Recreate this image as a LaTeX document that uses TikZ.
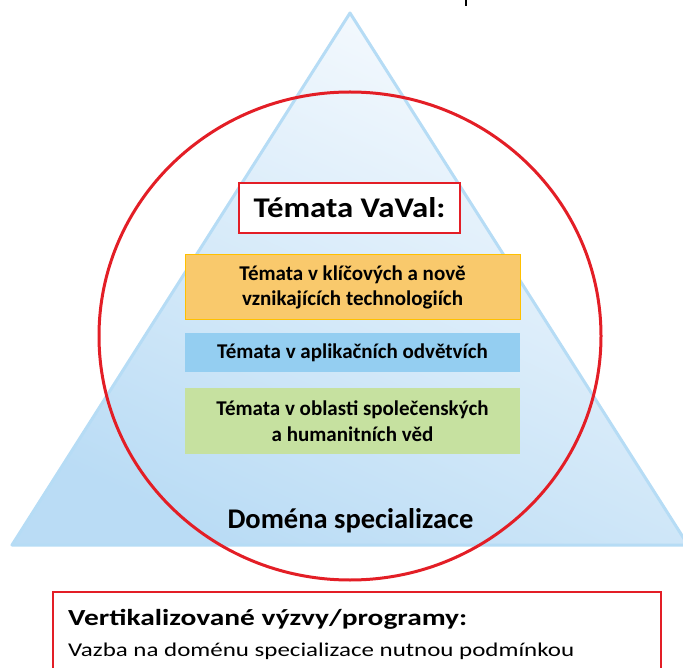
\documentclass[tikz,border=0pt]{standalone}
\usepackage{fontspec}
\setmainfont{Carlito}
\newfontfamily\widefont[FakeStretch=1.28]{Carlito}
\newfontfamily\titlefont[FakeStretch=1.15]{Carlito}
\usepackage{tikz}
\usetikzlibrary{positioning}

\begin{document}
\begin{tikzpicture}[x=1pt,y=-1pt]
              \definecolor{tribor}{RGB}{182,220,245}
              \definecolor{trilow}{RGB}{186,220,245}
              \definecolor{trihigh}{RGB}{248,251,254}
              \definecolor{circred}{RGB}{227,30,38}
              \definecolor{orangefill}{RGB}{249,201,108}
              \definecolor{orangebor}{RGB}{255,192,0}
              \definecolor{bluefill}{RGB}{148,206,241}
              \definecolor{greenfill}{RGB}{198,225,160}
              \tikzstyle{titlebox}=[draw=circred,line width=1.5pt,fill=white,minimum width=221pt,minimum height=50pt,font=\titlefont\bfseries\fontsize{28.5}{32}\selectfont]
              \tikzstyle{topicbox}=[minimum width=335pt,align=center,inner sep=0pt,font=\bfseries\fontsize{21}{25.5}\selectfont]

              \useasboundingbox (0,0) rectangle (683,668);

              % Triangle
              \shade[top color=trihigh,bottom color=trilow,shading angle=-25] (350,13) -- (688,545) -- (12,545) -- cycle;
              \draw[tribor,line width=3pt,line join=round] (350,13) -- (688,545) -- (12,545) -- cycle;
              \draw[line width=1.5pt] (466,0) -- (466,6);

              % Circle
              \draw[circred,line width=3pt] (350,336) ellipse [x radius=251,y radius=244];

              % Topics
              \node[titlebox] (vaval) at (349.5,208) {Témata VaVal:};
              \node[topicbox,fill=orangefill,draw=orangebor,line width=1pt,minimum height=65pt] (tech) at (352.5,287.5) {Témata v klíčových a nově\\vznikajících technologiích};
              \node[topicbox,fill=bluefill,minimum height=39pt] (apl) at (352.5,352.5) {Témata v aplikačních odvětvích};
              \node[topicbox,fill=greenfill,minimum height=66pt] (hum) at (352.5,421) {Témata v oblasti společenských\\a humanitních věd};
              \node[font=\bfseries\fontsize{28.5}{32}\selectfont] (domena) at (350.5,521) {Doména specializace};

              % Calls
              \draw[circred,line width=1.5pt] (53,592) rectangle (661,675);
              \node[anchor=base west,inner sep=0pt,font=\widefont\bfseries\fontsize{23}{26}\selectfont] (vyzvy) at (68,625) {Vertikalizované výzvy/programy:};
              \node[anchor=base west,inner sep=0pt,font=\widefont\fontsize{19.5}{24}\selectfont] (vazba) at (68,656) {Vazba na doménu specializace nutnou podmínkou};

            \end{tikzpicture}
\end{document}
